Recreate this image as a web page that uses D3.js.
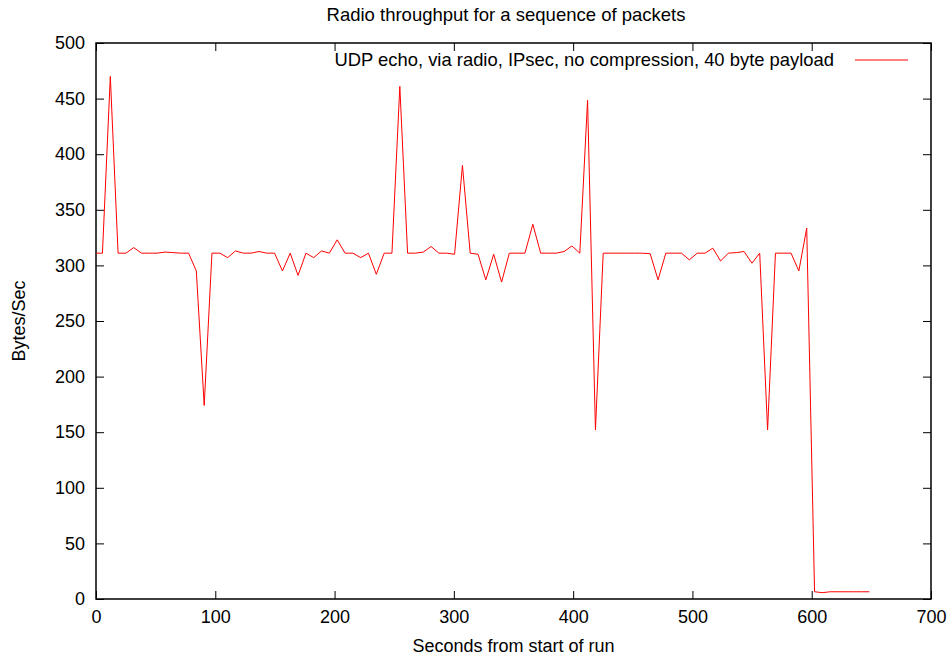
<!DOCTYPE html>
<html>
<head>
<meta charset="utf-8">
<script src="https://cdn.jsdelivr.net/npm/d3@7"></script>
<style>
  body { margin: 0; background: #fff; }
  text { font-family: "Liberation Sans", Arial, sans-serif; }
</style>
</head>
<body>
<svg id="chart" width="952" height="660"></svg>
<script>
// seconds from start of run
const seconds = [0, 5.4, 12.0, 18.5, 25.1, 31.6, 38.2, 44.8, 51.3, 57.9, 64.4, 71.0, 77.6, 84.1, 90.7,
  97.2, 103.8, 110.4, 116.9, 123.5, 130.0, 136.6, 143.2, 149.7, 156.3, 162.8, 169.4, 176.0, 182.5,
  189.1, 195.6, 202.2, 208.8, 215.3, 221.9, 228.4, 235.0, 241.6, 248.1, 254.7, 261.2, 267.8, 274.4,
  280.9, 287.5, 294.0, 300.6, 307.2, 313.7, 320.3, 326.8, 333.4, 340.0, 346.5, 353.1, 359.6, 366.2,
  372.8, 379.3, 385.9, 392.4, 399.0, 405.6, 412.1, 418.7, 425.2, 431.8, 438.4, 444.9, 451.5, 458.0,
  464.6, 471.2, 477.7, 484.3, 490.8, 497.4, 504.0, 510.5, 517.1, 523.6, 530.2, 536.8, 543.3, 549.9,
  556.4, 563.0, 569.6, 576.1, 582.7, 589.2, 595.8, 602.4, 608.9, 615.5, 622.0, 628.6, 635.2, 641.7, 648.3];

// bytes/sec for each packet
const bytesPerSec = [311, 311, 470, 311, 311, 316, 311, 311, 311, 312, 311.5, 311, 311, 295, 174,
  311, 311, 307, 313, 311, 311, 312.5, 311, 311, 295, 311, 291, 311, 307,
  313, 311, 323, 311, 311, 307, 311, 292, 311, 311, 461, 311, 311, 312,
  317, 311, 311, 310, 390, 311, 310, 287, 310, 285, 311, 311, 311, 337,
  311, 311, 311, 312.5, 317.5, 311, 448.5, 152, 311, 311, 311, 311, 311, 311,
  310.5, 287, 311, 311, 311, 305, 311, 311, 315.5, 304, 311, 311.5, 312.5, 302,
  311, 152, 311, 311, 311, 295, 333.5, 6.5, 5.7, 6.5, 6.5, 6.5, 6.5, 6.5, 6.5];

const xTicks = [0, 100, 200, 300, 400, 500, 600, 700];
const yTicks = [0, 50, 100, 150, 200, 250, 300, 350, 400, 450, 500];

const chartTitle = "Radio throughput for a sequence of packets";
const seriesName = "UDP echo, via radio, IPsec, no compression, 40 byte payload";
const xTitle = "Seconds from start of run";
const yTitle = "Bytes/Sec";

const margin = { left: 96, right: 21, top: 43, bottom: 61 };
const width = 952, height = 660;
const fontSize = "18px";

const svg = d3.select("#chart");

const x = d3.scaleLinear().domain([0, 700]).range([margin.left, width - margin.right]);
const y = d3.scaleLinear().domain([0, 500]).range([height - margin.bottom, margin.top]);

const tickLen = 8;

// bottom axis (ticks point inward)
const xAxis = svg.append("g")
  .attr("transform", `translate(0,${y(0)})`)
  .call(d3.axisBottom(x).tickValues(xTicks).tickSize(-tickLen).tickPadding(11));
// left axis
const yAxis = svg.append("g")
  .attr("transform", `translate(${x(0)},0)`)
  .call(d3.axisLeft(y).tickValues(yTicks).tickSize(-tickLen).tickPadding(11));
// mirrored ticks on top and right
const xTop = svg.append("g")
  .attr("transform", `translate(0,${y(500)})`)
  .call(d3.axisTop(x).tickValues(xTicks).tickSize(-tickLen).tickFormat(""));
const yRight = svg.append("g")
  .attr("transform", `translate(${x(700)},0)`)
  .call(d3.axisRight(y).tickValues(yTicks).tickSize(-tickLen).tickFormat(""));

[xAxis, yAxis, xTop, yRight].forEach(g => {
  g.select(".domain").remove();
  g.selectAll("line").attr("stroke", "#000").attr("stroke-width", 1);
  g.selectAll("text").attr("font-size", fontSize).attr("fill", "#000")
    .attr("font-family", "'Liberation Sans', Arial, sans-serif");
});

// plot border
svg.append("rect")
  .attr("x", x(0)).attr("y", y(500))
  .attr("width", x(700) - x(0)).attr("height", y(0) - y(500))
  .attr("fill", "none").attr("stroke", "#000").attr("stroke-width", 1.5);

// data line
const points = seconds.map((s, i) => [s, bytesPerSec[i]]);
const line = d3.line().x(d => x(d[0])).y(d => y(d[1]));
svg.append("path")
  .datum(points)
  .attr("d", line)
  .attr("fill", "none")
  .attr("stroke", "#ff0000")
  .attr("stroke-width", 1);

// legend
svg.append("text")
  .attr("x", 834).attr("y", 66)
  .attr("text-anchor", "end")
  .attr("font-size", "18.4px")
  .text(seriesName);
svg.append("line")
  .attr("x1", 855).attr("x2", 908)
  .attr("y1", 60).attr("y2", 60)
  .attr("stroke", "#ff0000").attr("stroke-width", 1);

// titles
svg.append("text")
  .attr("x", 506).attr("y", 21)
  .attr("text-anchor", "middle")
  .attr("font-size", "18.5px")
  .text(chartTitle);
svg.append("text")
  .attr("x", x(350)).attr("y", 652)
  .attr("text-anchor", "middle")
  .attr("font-size", fontSize)
  .text(xTitle);
svg.append("text")
  .attr("transform", `translate(25,${(y(0) + y(500)) / 2}) rotate(-90)`)
  .attr("text-anchor", "middle")
  .attr("font-size", fontSize)
  .text(yTitle);
</script>
</body>
</html>
